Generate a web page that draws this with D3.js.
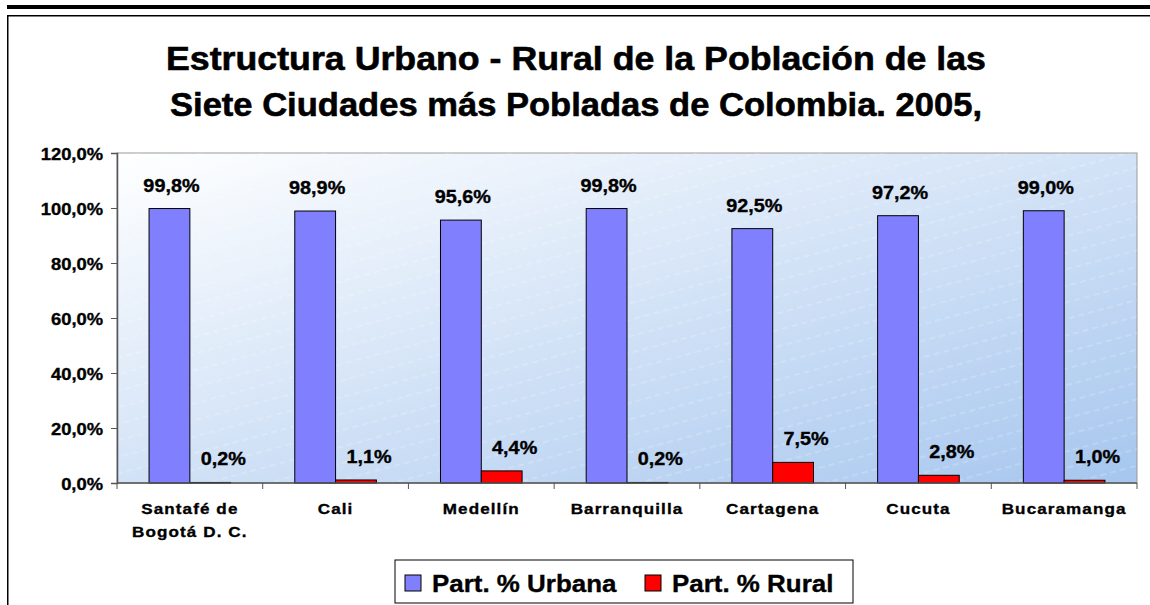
<!DOCTYPE html>
<html>
<head>
<meta charset="utf-8">
<script src="https://cdn.jsdelivr.net/npm/d3@7"></script>
<style>
  body { margin: 0; background: #fff; }
  svg { display: block; font-family: Arial, "Liberation Sans", sans-serif; }
  svg text { stroke: #000; stroke-width: 0.35px; }
</style>
</head>
<body>
<div class="canvas"></div>
<script>
const cities = [['Santafé de', 'Bogotá D. C.'], ['Cali'], ['Medellín'], ['Barranquilla'], ['Cartagena'], ['Cucuta'], ['Bucaramanga']];
const urbana = [99.8, 98.9, 95.6, 99.8, 92.5, 97.2, 99.0];
const rural = [0.2, 1.1, 4.4, 0.2, 7.5, 2.8, 1.0];
const yTicks = [0, 20, 40, 60, 80, 100, 120];
const series = [
  { name: 'Part. % Urbana', values: urbana, color: '#8080ff', labelShift: 2 },
  { name: 'Part. % Rural', values: rural, color: '#ff0000', labelShift: 13 },
];

const W = 1150, H = 605;
const plot = { left: 117, right: 1137, top: 153, bottom: 483 };
const fmt = v => d3.format('.1f')(v).replace('.', ',') + '%';

// widen text horizontally (the original picture is stretched a bit)
const stretch = (sel, k) => {
  sel.each(function () {
    const len = this.getComputedTextLength();
    d3.select(this).attr('textLength', len * k).attr('lengthAdjust', 'spacingAndGlyphs');
  });
};

const svg = d3.select('.canvas').append('svg').attr('width', W).attr('height', H);

// frame lines
svg.append('rect').attr('x', 7).attr('y', 5).attr('width', W - 7).attr('height', 4).attr('fill', '#000');
svg.append('rect').attr('x', 7).attr('y', 15).attr('width', W - 7).attr('height', 1.5).attr('fill', '#000');
svg.append('rect').attr('x', 7).attr('y', 15).attr('width', 1.5).attr('height', H - 15).attr('fill', '#000');

// title
const titleLines = ['Estructura Urbano - Rural de la Población de las', 'Siete Ciudades más Pobladas de Colombia. 2005,'];
const titleLen = [820, 812];
svg.append('g').selectAll('text').data(titleLines).join('text')
  .attr('x', 576).attr('y', (d, i) => 70 + i * 46)
  .attr('text-anchor', 'middle').attr('font-weight', 'bold').attr('font-size', 34)
  .style('stroke-width', '0.6px')
  .attr('textLength', (d, i) => titleLen[i]).attr('lengthAdjust', 'spacingAndGlyphs')
  .text(d => d);

// background gradient + faint diagonal dashes
const defs = svg.append('defs');
const grad = defs.append('linearGradient').attr('id', 'bg')
  .attr('x1', '0%').attr('y1', '0%').attr('x2', '100%').attr('y2', '100%');
grad.append('stop').attr('offset', '0%').attr('stop-color', '#ffffff');
grad.append('stop').attr('offset', '100%').attr('stop-color', '#a6c6ee');
const pat = defs.append('pattern').attr('id', 'hatch').attr('patternUnits', 'userSpaceOnUse')
  .attr('width', 60).attr('height', 16).attr('patternTransform', 'rotate(-15)');
pat.append('line').attr('x1', 0).attr('y1', 8).attr('x2', 60).attr('y2', 8)
  .attr('stroke', '#fff').attr('stroke-width', 1).attr('stroke-dasharray', '6 4').attr('opacity', 0.35);

svg.append('rect').attr('x', plot.left).attr('y', plot.top)
  .attr('width', plot.right - plot.left).attr('height', plot.bottom - plot.top)
  .attr('fill', 'url(#bg)').attr('stroke', '#999').attr('stroke-width', 1);
svg.append('rect').attr('x', plot.left).attr('y', plot.top)
  .attr('width', plot.right - plot.left).attr('height', plot.bottom - plot.top)
  .attr('fill', 'url(#hatch)');

const x = d3.scaleBand().domain(d3.range(cities.length)).range([plot.left, plot.right]);
const y = d3.scaleLinear().domain([0, 120]).range([plot.bottom, plot.top]);
const barW = x.bandwidth() * 0.28;

// y axis
const yAxis = svg.append('g').attr('transform', `translate(${plot.left},0)`)
  .call(d3.axisLeft(y).tickValues(yTicks).tickFormat(fmt).tickSize(6).tickPadding(8));
yAxis.select('.domain').attr('stroke', '#555').attr('stroke-width', 1.5);
yAxis.selectAll('.tick line').attr('stroke', '#555');
yAxis.selectAll('text').attr('font-size', 17).attr('font-weight', 'bold').attr('fill', '#000')
  .attr('font-family', 'Arial, "Liberation Sans", sans-serif').attr('dy', '0.36em');
stretch(yAxis.selectAll('text'), 1.08);

// bars
const groups = svg.append('g').attr('id', 'barGroups');
series.forEach((s, si) => {
  const g = groups.append('g');
  g.selectAll('rect').data(s.values).join('rect')
    .attr('x', (d, i) => x(i) + x.bandwidth() / 2 - barW + si * barW)
    .attr('y', d => y(d))
    .attr('width', barW)
    .attr('height', d => y(0) - y(d))
    .attr('fill', s.color)
    .attr('stroke', '#000')
    .attr('stroke-width', 1);
  const labels = g.selectAll('text').data(s.values).join('text')
    .attr('x', (d, i) => x(i) + x.bandwidth() / 2 - barW / 2 + si * barW + s.labelShift)
    .attr('y', d => y(d) - 17)
    .attr('text-anchor', 'middle')
    .attr('font-size', 18).attr('font-weight', 'bold')
    .text(d => fmt(d));
  stretch(labels, 1.1);
});

// x axis
const xAxisG = svg.append('g');
xAxisG.append('line').attr('x1', plot.left).attr('x2', plot.right).attr('y1', plot.bottom).attr('y2', plot.bottom)
  .attr('stroke', '#555').attr('stroke-width', 1.5);
xAxisG.selectAll('line.tk').data(d3.range(cities.length + 1)).join('line').attr('class', 'tk')
  .attr('x1', i => plot.left + i * x.bandwidth()).attr('x2', i => plot.left + i * x.bandwidth())
  .attr('y1', plot.bottom).attr('y2', plot.bottom + 6).attr('stroke', '#555');
const xl = xAxisG.selectAll('g.lbl').data(cities).join('g').attr('class', 'lbl');
xl.each(function (lines, i) {
  d3.select(this).selectAll('text').data(lines).join('text')
    .attr('x', x(i) + x.bandwidth() / 2).attr('y', (l, li) => 514 + li * 23)
    .attr('text-anchor', 'middle').attr('font-size', 15.5).attr('font-weight', 'bold')
    .attr('letter-spacing', 1)
    .text(l => l);
});
stretch(xAxisG.selectAll('text'), 1.1);

// legend
const lg = svg.append('g');
lg.append('rect').attr('x', 395).attr('y', 560).attr('width', 458).attr('height', 43)
  .attr('fill', '#fff').attr('stroke', '#000').attr('stroke-width', 1);
const legX = [405, 645];
series.forEach((s, si) => {
  lg.append('rect').attr('x', legX[si]).attr('y', 575).attr('width', 16).attr('height', 16)
    .attr('fill', s.color).attr('stroke', '#000');
  lg.append('text').attr('x', legX[si] + 27).attr('y', 592).attr('font-size', 24)
    .attr('font-weight', 'bold').text(s.name);
});
stretch(lg.selectAll('text'), 1.08);
</script>
</body>
</html>
